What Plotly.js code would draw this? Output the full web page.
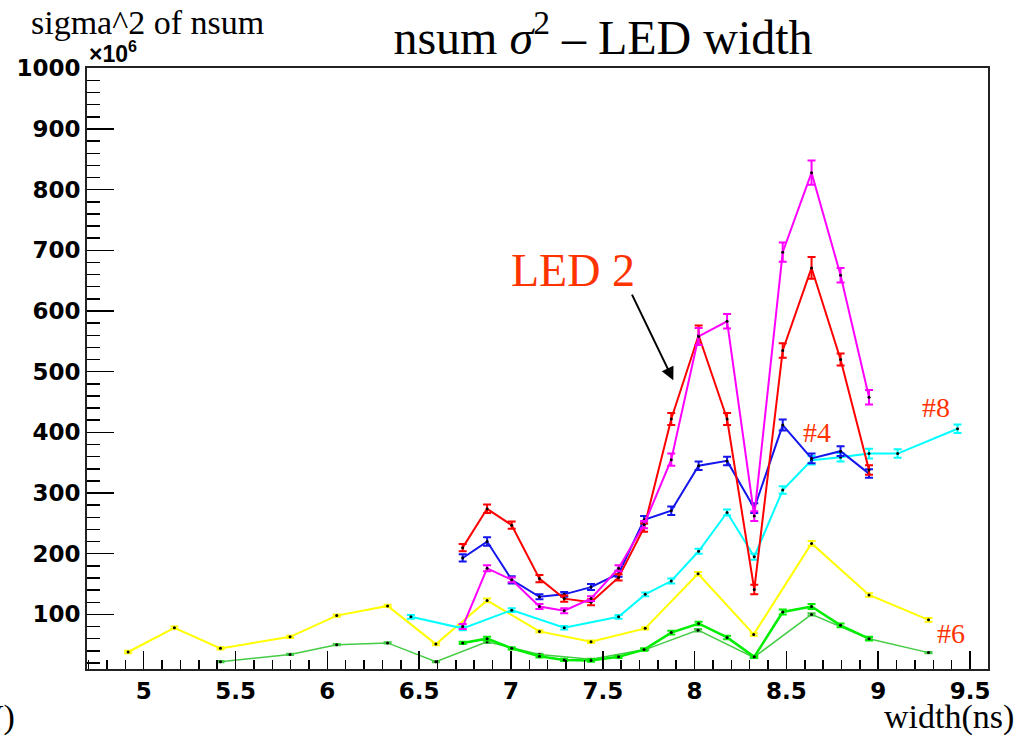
<!DOCTYPE html>
<html><head><meta charset="utf-8">
<script src="https://cdn.plot.ly/plotly-3.0.1.min.js"></script>
<style>html,body{margin:0;padding:0;background:#fff}#chart{width:1032px;height:738px}</style>
</head><body><div id="chart"></div>
<script>
// ---- data (sigma^2 of nsum, x10^6) ----
const xYellow = [4.915,5.167,5.418,5.797,6.051,6.328,6.591,6.87,7.155,7.436,7.731,8.019,8.322,8.637,8.95,9.274];
const yYellow = [38,78,44,63,98,114,51,123,72,55,77,167,67,217,132,91];
const eYellow = [2,2,2,2,2,2,2,3,2,2,2,3,2,4,3,3];

const xLtGreen = [5.418,5.797,6.051,6.328,6.591,6.87,7.155,7.436,7.731,8.019,8.322,8.637,8.95,9.274];
const yLtGreen = [22,34,50,53,22,55,34,26,42,74,29,100,60,37];
const eLtGreen = [1,1,1,1,1,2,1,1,1,2,1,2,2,1];

const xCyan = [6.455,6.737,7.004,7.29,7.586,7.731,7.873,8.022,8.177,8.325,8.48,8.637,8.795,8.95,9.106,9.432];
const yCyan = [96,77,107,78,96,133,155,204,268,195,305,354,359,365,365,406];
const eCyan = [3,3,3,3,3,3,4,4,5,5,6,7,7,8,7,7];

const xLed = [6.737,6.87,7.004,7.155,7.29,7.436,7.586,7.725,7.873,8.022,8.177,8.325,8.48,8.637,8.795,8.95];
const yGreen = [53,60,44,31,25,24,30,42,70,85,62,30,104,113,82,60];
const eGreen = [2,3,2,2,2,2,2,2,3,3,3,2,4,4,3,3];
const yBlue = [193,220,157,129,133,145,167,256,271,345,353,275,412,357,369,332];
const eBlue = [6,7,6,4,4,5,5,6,7,7,7,8,9,8,8,7];
const yRed = [210,274,247,159,126,120,161,243,422,560,422,141,535,671,520,338];
const eRed = [6,7,6,6,5,5,5,7,10,16,10,8,12,18,10,8];
const yMagenta = [80,176,157,113,106,126,176,248,355,558,583,262,697,828,659,458];
const eMagenta = [4,5,4,4,4,4,5,6,10,14,12,8,16,20,12,12];

function tr(x, y, e, color, w) {
  return {
    type: 'scatter', mode: 'lines+markers', x: x, y: y,
    line: {color: color, width: w},
    marker: {color: 'black', size: 3},
    error_y: {type: 'data', array: e, visible: true, color: color, thickness: 2, width: 4},
    hoverinfo: 'x+y', showlegend: false
  };
}

const traces = [
  tr(xYellow, yYellow, eYellow, '#ffff00', 2),
  tr(xLtGreen, yLtGreen, eLtGreen, '#44cc44', 1.5),
  tr(xLed, yGreen, eGreen, '#00ee00', 2.5),
  tr(xCyan, yCyan, eCyan, '#00ffff', 2),
  tr(xLed, yBlue, eBlue, '#1515ee', 2),
  tr(xLed, yRed, eRed, '#ff0000', 2),
  tr(xLed, yMagenta, eMagenta, '#ff00ff', 2)
];

// pixel -> paper helper for plot area (87..988, 68..669)
const L = 87, R = 988, T = 68, B = 669;
function P(px, py) { return {xref: 'paper', yref: 'paper', x: (px - L) / (R - L), y: (B - py) / (B - T)}; }
const serif = 'Liberation Serif, Times New Roman, serif';
const orange = '#ff3300';

const annotations = [
  Object.assign(P(29, 22), {text: 'sigma^2 of nsum', showarrow: false, xanchor: 'left', yanchor: 'middle', font: {family: serif, size: 34, color: 'black'}}),
  Object.assign(P(87, 52), {text: '×10<sup>6</sup>', showarrow: false, xanchor: 'left', yanchor: 'middle', font: {family: 'Liberation Sans, Arial, sans-serif', size: 23, weight: 'bold', color: 'black'}}),
  Object.assign(P(1016, 717), {text: 'width(ns)', showarrow: false, xanchor: 'right', yanchor: 'middle', font: {family: serif, size: 34, color: 'black'}}),
  Object.assign(P(17, 717), {text: 'V)', showarrow: false, xanchor: 'right', yanchor: 'middle', font: {family: serif, size: 34, color: 'black'}}),
  Object.assign(P(573, 270), {text: 'LED 2', showarrow: false, xanchor: 'center', yanchor: 'middle', font: {family: serif, size: 46, color: orange}}),
  Object.assign(P(801, 432), {text: '#4', showarrow: false, xanchor: 'left', yanchor: 'middle', font: {family: serif, size: 28, color: orange}}),
  Object.assign(P(920, 408), {text: '#8', showarrow: false, xanchor: 'left', yanchor: 'middle', font: {family: serif, size: 28, color: orange}}),
  Object.assign(P(935, 633), {text: '#6', showarrow: false, xanchor: 'left', yanchor: 'middle', font: {family: serif, size: 28, color: orange}}),
  {xref: 'x', yref: 'y', x: 7.884, y: 486, ax: -42, ay: -87, axref: 'pixel', ayref: 'pixel', text: '', showarrow: true,
   arrowhead: 2, arrowsize: 1.3, arrowwidth: 2, arrowcolor: 'black'}
];

const tickFont = {family: 'DejaVu Sans, Arial, sans-serif', size: 23, weight: 'bold', color: 'black'};

const layout = {
  width: 1032, height: 738,
  margin: {l: L, r: 1032 - R, t: T, b: 738 - B, pad: 0},
  paper_bgcolor: 'white', plot_bgcolor: 'white',
  showlegend: false,
  title: {text: 'nsum <i>σ</i><sup>2</sup> – LED width', font: {family: serif, size: 48, color: 'black'},
          xref: 'container', yref: 'container', x: 603 / 1032, xanchor: 'center', y: 1 - 37 / 738, yanchor: 'middle'},
  xaxis: {
    range: [4.691, 9.598], showgrid: false, zeroline: false,
    showline: true, linewidth: 2, linecolor: '#222', mirror: true,
    ticks: 'inside', ticklen: 18, tickwidth: 1.5, tickcolor: 'black',
    tick0: 5, dtick: 0.5, tickfont: tickFont,
    minor: {ticks: 'inside', dtick: 0.1, tick0: 5, ticklen: 9, tickwidth: 1.5, tickcolor: 'black', showgrid: false}
  },
  yaxis: {
    range: [10, 1000.5], showgrid: false, zeroline: false,
    showline: true, linewidth: 2, linecolor: '#222', mirror: true,
    ticks: 'inside', ticklen: 27, tickwidth: 1.5, tickcolor: 'black',
    tick0: 0, dtick: 100, tickfont: tickFont,
    minor: {ticks: 'inside', dtick: 20, tick0: 0, ticklen: 13, tickwidth: 1.5, tickcolor: 'black', showgrid: false}
  },
  annotations: annotations
};

Plotly.newPlot('chart', traces, layout, {displayModeBar: false, staticPlot: true});
</script>
</body></html>
